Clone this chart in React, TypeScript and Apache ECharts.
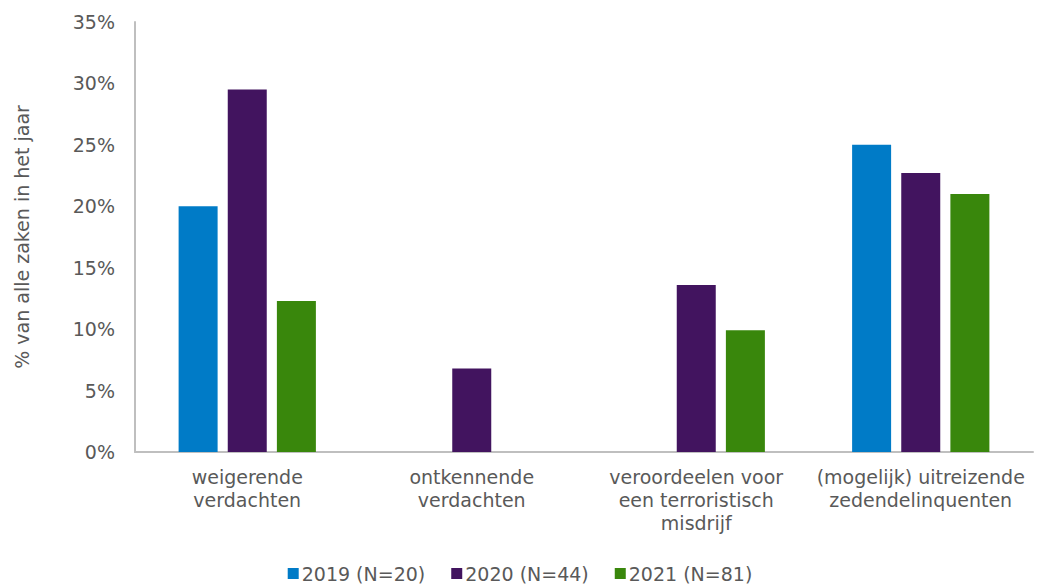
import React, { useEffect, useRef } from "react";
import * as echarts from "echarts";

const categories = [
  "weigerende\nverdachten",
  "ontkennende\nverdachten",
  "veroordeelen voor\neen terroristisch\nmisdrijf",
  "(mogelijk) uitreizende\nzedendelinquenten",
];
const seriesNames = ["2019 (N=20)", "2020 (N=44)", "2021 (N=81)"];
const values2019 = [20.0, 0, 0, 25.0];
const values2020 = [29.5, 6.8, 13.6, 22.7];
const values2021 = [12.3, 0, 9.9, 21.0];
const colors = ["#007BC7", "#42145F", "#39870C"];
const yAxisTitle = "% van alle zaken in het jaar";

export default function App() {
  const ref = useRef<HTMLDivElement>(null);
  useEffect(() => {
    if (!ref.current) return;
    const chart = echarts.init(ref.current, null, { renderer: "svg" });
    const font = "DejaVu Sans";
    const textColor = "#595959";
    const all = [values2019, values2020, values2021];
    chart.setOption({
      animation: false,
      textStyle: { fontFamily: font },
      grid: { left: 135, right: 7, top: 22, bottom: 133 },
      legend: {
        bottom: -3,
        left: "center",
        itemWidth: 11,
        itemHeight: 11,
        itemGap: 26,
        icon: "rect",
        textStyle: { fontFamily: font, fontSize: 19, color: textColor, padding: [0, 0, 0, -2] },
        data: seriesNames,
      },
      xAxis: {
        type: "category",
        data: categories,
        axisLine: { lineStyle: { color: "#BFBFBF", width: 2 } },
        axisTick: { show: false },
        axisLabel: {
          fontFamily: font,
          fontSize: 19,
          color: textColor,
          lineHeight: 23,
          margin: 13,
          interval: 0,
        },
      },
      yAxis: {
        type: "value",
        min: 0,
        max: 35,
        interval: 5,
        name: yAxisTitle,
        nameLocation: "middle",
        nameGap: 104,
        nameTextStyle: { fontFamily: font, fontSize: 19, color: textColor },
        axisLine: { show: true, lineStyle: { color: "#BFBFBF", width: 2 } },
        axisTick: { show: false },
        splitLine: { show: false },
        axisLabel: {
          fontFamily: font,
          fontSize: 19,
          color: textColor,
          margin: 20,
          formatter: (v: number) => v + "%",
        },
      },
      series: seriesNames.map((name, i) => ({
        name,
        type: "bar",
        data: all[i],
        barWidth: 39,
        barGap: "26%",
        itemStyle: { color: colors[i] },
      })),
    });
    return () => chart.dispose();
  }, []);
  return (
    <div
      ref={ref}
      style={{ position: "absolute", left: 0, top: 0, width: 1040, height: 585 }}
    />
  );
}
